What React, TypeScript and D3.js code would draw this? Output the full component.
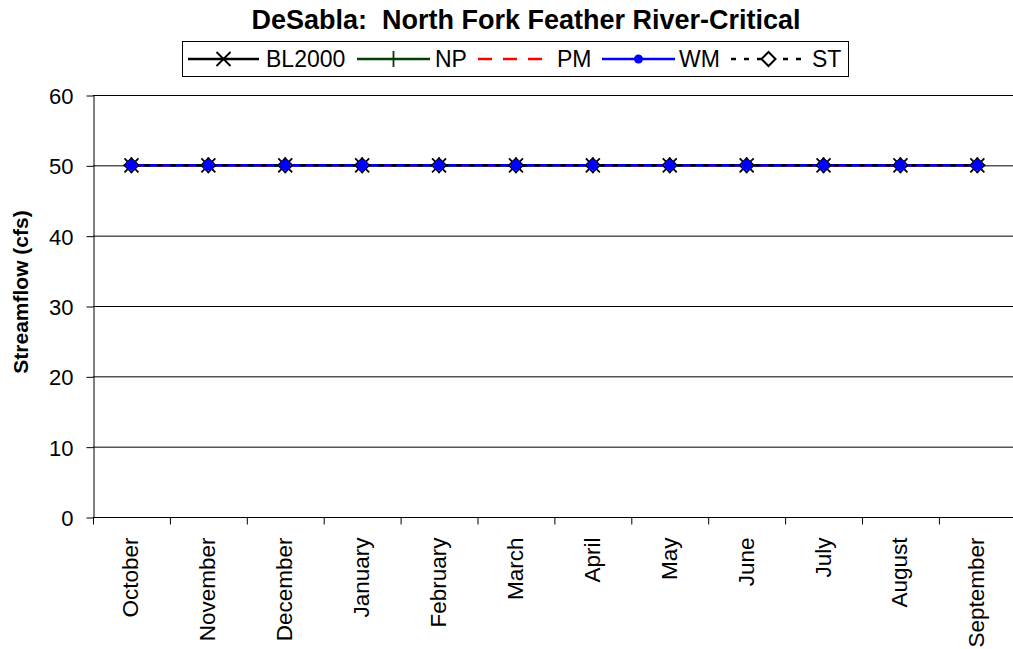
import React, { useEffect, useRef } from 'react';
import * as d3 from 'd3';

const months = ["October", "November", "December", "January", "February", "March", "April", "May", "June", "July", "August", "September"];
const bl2000 = [50, 50, 50, 50, 50, 50, 50, 50, 50, 50, 50, 50];
const np = [50, 50, 50, 50, 50, 50, 50, 50, 50, 50, 50, 50];
const pm = [50, 50, 50, 50, 50, 50, 50, 50, 50, 50, 50, 50];
const wm = [50, 50, 50, 50, 50, 50, 50, 50, 50, 50, 50, 50];
const st = [50, 50, 50, 50, 50, 50, 50, 50, 50, 50, 50, 50];
const yTicks = [0, 10, 20, 30, 40, 50, 60];

const FONT = "'Liberation Sans', Arial, sans-serif";

const App: React.FC = () => {
  const ref = useRef<SVGSVGElement | null>(null);

  useEffect(() => {
    if (!ref.current) return;
    const svg = d3.select(ref.current);
    svg.selectAll("*").remove();

    const left = 93, top = 95, bottom = 517;
    const bw = 76.9;
    const right = left + bw * months.length;

    const x = d3.scaleBand().domain(months).range([left, right]);
    const y = d3.scaleLinear().domain([0, 60]).range([bottom, top]);

    // gridlines
    svg.append("g").selectAll("line").data(yTicks.filter(d => d > 0)).join("line")
      .attr("x1", left).attr("x2", right)
      .attr("y1", d => y(d) + 0.5).attr("y2", d => y(d) + 0.5)
      .attr("stroke", "#000").attr("stroke-width", 1);

    // y axis
    const ya = svg.append("g").attr("transform", `translate(${left + 0.5},0.5)`)
      .call(d3.axisLeft(y).tickValues(yTicks).tickSize(7).tickSizeOuter(0));
    ya.select(".domain").attr("stroke", "#000");
    ya.selectAll("line").attr("stroke", "#000");
    ya.selectAll("text").attr("font-family", FONT).attr("font-size", 22).attr("fill", "#000").attr("x", -20).attr("dy", "0.36em");

    // x axis
    const xa = svg.append("g").attr("transform", `translate(0,${bottom + 0.5})`);
    xa.append("line").attr("x1", left).attr("x2", right).attr("y1", 0).attr("y2", 0).attr("stroke", "#000");
    xa.selectAll("line.t").data(d3.range(months.length + 1)).join("line").attr("class", "t")
      .attr("x1", i => left + i * bw + 0.5).attr("x2", i => left + i * bw + 0.5)
      .attr("y1", 0).attr("y2", 7).attr("stroke", "#000");
    xa.selectAll("text").data(months).join("text")
      .attr("transform", d => `translate(${(x(d) || 0) + x.bandwidth() / 2 + 7},20) rotate(-90)`)
      .attr("text-anchor", "end")
      .attr("font-family", FONT).attr("font-size", 22.5).attr("fill", "#000")
      .text(d => d);

    const cx = (i: number) => (x(months[i]) || 0) + x.bandwidth() / 2;
    const line = d3.line<number>().x((_, i) => cx(i)).y(d => y(d));

    svg.append("path").datum(bl2000).attr("d", line).attr("fill", "none").attr("stroke", "#000").attr("stroke-width", 2.5);
    svg.append("path").datum(np).attr("d", line).attr("fill", "none").attr("stroke", "#004000").attr("stroke-width", 2.5);
    svg.append("path").datum(pm).attr("d", line).attr("fill", "none").attr("stroke", "#ff0000").attr("stroke-width", 2.5).attr("stroke-dasharray", "14,11");
    svg.append("path").datum(wm).attr("d", line).attr("fill", "none").attr("stroke", "#0000ff").attr("stroke-width", 2.5);
    svg.append("path").datum(st).attr("d", line).attr("fill", "none").attr("stroke", "#000").attr("stroke-width", 2.5).attr("stroke-dasharray", "5,8");

    const mk = svg.append("g");
    bl2000.forEach((v, i) => {
      const px = cx(i), py = y(v);
      mk.append("path").attr("d", `M${px - 7},${py - 7}L${px + 7},${py + 7}M${px - 7},${py + 7}L${px + 7},${py - 7}`).attr("stroke", "#000").attr("stroke-width", 1.8);
    });
    np.forEach((v, i) => {
      const px = cx(i), py = y(v);
      mk.append("path").attr("d", `M${px - 8},${py}L${px + 8},${py}M${px},${py - 8}L${px},${py + 8}`).attr("stroke", "#004000").attr("stroke-width", 1.8);
    });
    st.forEach((v, i) => {
      const px = cx(i), py = y(v);
      mk.append("path").attr("d", `M${px},${py - 7}L${px + 7},${py}L${px},${py + 7}L${px - 7},${py}Z`).attr("stroke", "#000").attr("stroke-width", 1.8).attr("fill", "#fff");
    });
    wm.forEach((v, i) => {
      mk.append("circle").attr("cx", cx(i)).attr("cy", y(v)).attr("r", 5.5).attr("fill", "#0000ff");
    });

    // title
    svg.append("text").attr("x", 526).attr("y", 29).attr("text-anchor", "middle")
      .attr("font-family", FONT).attr("font-size", 27).attr("font-weight", "bold").text("DeSabla:\u00a0 North Fork Feather River-Critical");

    // y label
    svg.append("text").attr("transform", `translate(28,292) rotate(-90)`).attr("text-anchor", "middle")
      .attr("font-family", FONT).attr("font-size", 21).attr("font-weight", "bold").text("Streamflow (cfs)");

    // legend
    const lg = svg.append("g");
    lg.append("rect").attr("x", 182.5).attr("y", 41.5).attr("width", 666).attr("height", 35).attr("fill", "#fff").attr("stroke", "#000");
    const ly = 59;
    const items = [
      { name: "BL2000", x1: 188, x2: 259, tx: 266, color: "#000", dash: null, m: "x" },
      { name: "NP", x1: 357, x2: 430, tx: 435, color: "#004000", dash: null, m: "+" },
      { name: "PM", x1: 478, x2: 547, tx: 557, color: "#ff0000", dash: "14,11", m: "" },
      { name: "WM", x1: 602, x2: 675, tx: 679, color: "#0000ff", dash: null, m: "o" },
      { name: "ST", x1: 731, x2: 806, tx: 812, color: "#000", dash: "5,8", m: "d" },
    ];
    items.forEach(it => {
      const mx = (it.x1 + it.x2) / 2;
      const l = lg.append("line").attr("x1", it.x1).attr("x2", it.x2).attr("y1", ly).attr("y2", ly).attr("stroke", it.color).attr("stroke-width", 2.5);
      if (it.dash) l.attr("stroke-dasharray", it.dash);
      if (it.m === "x") lg.append("path").attr("d", `M${mx - 7},${ly - 7}L${mx + 7},${ly + 7}M${mx - 7},${ly + 7}L${mx + 7},${ly - 7}`).attr("stroke", "#000").attr("stroke-width", 1.8);
      if (it.m === "+") lg.append("path").attr("d", `M${mx - 8},${ly}L${mx + 8},${ly}M${mx},${ly - 8}L${mx},${ly + 8}`).attr("stroke", it.color).attr("stroke-width", 1.8);
      if (it.m === "o") lg.append("circle").attr("cx", mx).attr("cy", ly).attr("r", 4.5).attr("fill", it.color);
      if (it.m === "d") lg.append("path").attr("d", `M${mx},${ly - 7}L${mx + 7},${ly}L${mx},${ly + 7}L${mx - 7},${ly}Z`).attr("stroke", "#000").attr("stroke-width", 2).attr("fill", "#fff");
      lg.append("text").attr("x", it.tx).attr("y", ly + 8).attr("font-family", FONT).attr("font-size", 23).attr("fill", "#000").text(it.name);
    });
  }, []);

  return (
    <svg ref={ref} width={1013} height={649} style={{ position: "absolute", left: 0, top: 0, background: "#fff" }} />
  );
};

export default App;
